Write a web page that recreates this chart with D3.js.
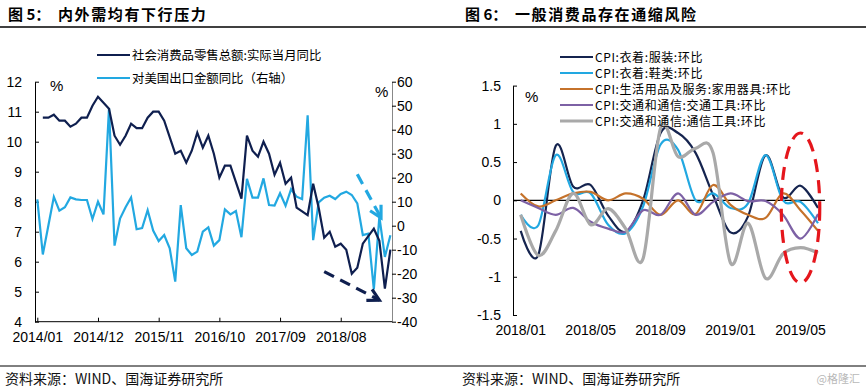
<!DOCTYPE html>
<html><head><meta charset="utf-8">
<script src="https://cdn.jsdelivr.net/npm/d3@7"></script>
<style>body{margin:0;background:#fff} svg{display:block}</style>
</head><body><svg id="c" width="866" height="391"></svg>
<script>
// ---------- Left chart data ----------
const retailDates = ["2014/02","2014/03","2014/04","2014/05","2014/06","2014/07","2014/08","2014/09","2014/10","2014/11","2014/12",
 "2015/02","2015/03","2015/04","2015/05","2015/06","2015/07","2015/08","2015/09","2015/10","2015/11","2015/12",
 "2016/02","2016/03","2016/04","2016/05","2016/06","2016/07","2016/08","2016/09","2016/10","2016/11","2016/12",
 "2017/02","2017/03","2017/04","2017/05","2017/06","2017/07","2017/08","2017/09","2017/10","2017/11","2017/12",
 "2018/02","2018/03","2018/04","2018/05","2018/06","2018/07","2018/08","2018/09","2018/10","2018/11","2018/12",
 "2019/02","2019/03","2019/04","2019/05"];
const retailValues = [10.8,10.8,10.9,10.7,10.7,10.5,10.6,10.8,10.8,11.2,11.5,
 11.1,10.2,9.9,10.2,10.6,10.45,10.45,10.8,11.0,11.0,10.7,
 9.6,9.7,9.3,9.7,10.3,9.8,10.2,9.6,8.8,9.2,9.2,
 8.1,10.2,9.7,9.5,10.0,9.6,8.9,9.3,8.6,8.8,7.8,
 7.55,8.6,7.8,6.8,7.0,6.5,6.6,6.4,5.6,5.8,6.6,
 7.1,6.7,5.1,6.4];
const exportMonths = d3.timeMonth.range(new Date(2014,0,1), new Date(2019,5,1)).map(d3.timeFormat("%Y/%m"));
const exportValues = [11,-12,0,12,6.3,7.7,11.8,11,10.7,10.7,2.8,10,
 4.7,49,-8.3,3,7.7,11.8,-1.5,-1,6.5,-2,-6.4,-3.9,
 -9.4,-23.3,8.6,-9.4,-12.2,-10.8,-2.5,-0.7,-8.3,-6,6.8,4.7,
 6.1,-4.8,19.5,11.7,11.7,19.7,8.6,8.4,13.5,8.3,15.2,12.1,
 11.1,46,-6,9.7,11.7,12.5,11.1,13.2,14.2,12.8,9.3,-3.9,
 -3.3,-26.5,3.8,-13,-4];
const leftXTicks = ["2014/01","2014/12","2015/11","2016/10","2017/09","2018/08"];
const leftYTicks = [4,5,6,7,8,9,10,11,12];
const rightYTicks = [-40,-30,-20,-10,0,10,20,30,40,50,60];
const leftSeriesNames = ["社会消费品零售总额:实际当月同比","对美国出口金额同比（右轴）"];
// annotation arrows (month, value)
const arrowDark = [["2018/05",5.67],["2019/03",4.72]];
const arrowLight = [["2018/11",21.4],["2019/04",3.3]];

// ---------- Right chart data ----------
const cpiMonths = ["2018/01","2018/02","2018/03","2018/04","2018/05","2018/06","2018/07","2018/08","2018/09",
 "2018/10","2018/11","2018/12","2019/01","2019/02","2019/03","2019/04","2019/05","2019/06"];
const cpiClothing = [-0.40,-0.72,0.71,0.18,0.20,-0.20,-0.41,0.0,0.88,0.88,0.62,0.07,-0.42,-0.21,0.59,0.04,0.19,-0.10];
const cpiShoes    = [-0.19,-0.33,0.59,0.11,0.09,-0.32,-0.43,-0.08,0.73,0.66,0.0,0.09,-0.10,-0.04,0.59,0.0,-0.02,-0.30];
const cpiHousehold= [0.09,-0.08,0.0,0.09,0.11,0.0,0.09,0.02,-0.19,0.0,-0.18,0.20,-0.06,-0.19,-0.23,0.09,-0.13,-0.40];
const cpiVehicles = [0.0,-0.10,-0.19,-0.10,-0.28,-0.37,-0.41,-0.13,-0.19,0.09,-0.19,-0.02,0.09,-0.01,-0.01,-0.19,-0.50,-0.18];
const cpiTelecom  = [-0.19,-0.72,-0.40,0.09,-0.32,-0.11,-0.37,-0.76,0.95,0.57,0.68,0.62,-0.82,-0.30,-1.02,-0.70,-0.62,-0.69];
const cpiNames = ["CPI:衣着:服装:环比","CPI:衣着:鞋类:环比","CPI:生活用品及服务:家用器具:环比","CPI:交通和通信:交通工具:环比","CPI:交通和通信:通信工具:环比"];
const cpiYTicks = [-1.5,-1,-0.5,0,0.5,1,1.5];
const cpiXTicks = ["2018/01","2018/05","2018/09","2019/01","2019/05"];
const ellipseCenter = ["2019/05",-0.1]; // centre month, value
const ellipseRadii = [1.1, 0.98];       // months, value units

// ---------- helpers ----------
const svg = d3.select("#c");
const NUM = "'Liberation Sans', Arial, sans-serif";
const CJK = "'Noto Sans CJK SC', 'Noto Sans', sans-serif";
const mIdx = s => { const [y,m] = s.split("/").map(Number); return (y-2014)*12 + (m-1); };
const fmt = d => String(d);

// ---------- titles / frame ----------
svg.append("line").attr("x1",0).attr("x2",866).attr("y1",27).attr("y2",27).attr("stroke","#000").attr("stroke-width",1.5);
svg.append("line").attr("x1",0).attr("x2",866).attr("y1",366).attr("y2",366).attr("stroke","#000").attr("stroke-width",1);
function title(x1, t1, x2, t2){
  svg.append("text").attr("x",x1).attr("y",20).attr("font-family",CJK).attr("font-weight",700).attr("font-size",15).text(t1);
  svg.append("text").attr("x",x2).attr("y",20).attr("font-family",CJK).attr("font-weight",700).attr("font-size",15).attr("letter-spacing",1.6).text(t2);
}
title(8,"图 5：",58,"内外需均有下行压力");
title(465,"图 6：",515,"一般消费品存在通缩风险");
[[5,"资料来源：WIND、国海证券研究所"],[462,"资料来源：WIND、国海证券研究所"]].forEach(([x,t])=>{
  svg.append("text").attr("x",x).attr("y",384).attr("font-family",CJK).attr("font-size",14).attr("fill","#111").text(t);
});
svg.append("text").attr("x",860).attr("y",383).attr("text-anchor","end").attr("font-family",CJK).attr("font-size",11).attr("fill","#b8b8b8").text("@格隆汇");

// ---------- Left chart ----------
const L = svg.append("g");
const xL = d3.scaleLinear().domain([0,64]).range([37.3,390.4]);
const yL = d3.scaleLinear().domain([4,12]).range([321.7,81.7]);
const yR = d3.scaleLinear().domain([-40,60]).range([321.7,81.7]);
const styleAxis = g => { g.selectAll("path,line").attr("stroke","#000"); g.selectAll("text").attr("font-family",NUM).attr("font-size",14).attr("fill","#000"); };

L.append("g").attr("transform","translate(35,0)")
 .call(d3.axisLeft(yL).tickValues(leftYTicks).tickFormat(fmt).tickSizeInner(-4).tickSizeOuter(0).tickPadding(13)).call(styleAxis);
L.append("g").attr("transform","translate(392,0)")
 .call(d3.axisRight(yR).tickValues(rightYTicks).tickFormat(fmt).tickSizeInner(4).tickSizeOuter(0).tickPadding(1)).call(styleAxis)
 .select(".domain").attr("stroke","#888");
const xAxL = L.append("g").attr("transform","translate(0,321.7)")
 .call(d3.axisBottom(xL).tickValues(leftXTicks.map(mIdx)).tickFormat(i => leftXTicks[leftXTicks.map(mIdx).indexOf(i)]).tickSizeInner(-4).tickSizeOuter(0).tickPadding(10)).call(styleAxis);
xAxL.select(".domain").attr("d","M35,0H392");

const retail = retailDates.map((d,i)=>({x:mIdx(d), v:retailValues[i]}));
const exportsUS = exportMonths.map((d,i)=>({x:mIdx(d), v:exportValues[i]}));
L.append("path").datum(exportsUS).attr("fill","none").attr("stroke","#22a8e1").attr("stroke-width",2.2)
 .attr("d", d3.line().x(d=>xL(d.x)).y(d=>yR(d.v)));
L.append("path").datum(retail).attr("fill","none").attr("stroke","#0f1f4f").attr("stroke-width",2.2)
 .attr("d", d3.line().x(d=>xL(d.x)).y(d=>yL(d.v)));

function dashedArrow(pts, ys, color, endShift){
  const [a,b] = pts.map(([m,v],k)=>[xL(mIdx(m) + (k===1?endShift:0)), ys(v)]);
  L.append("line").attr("x1",a[0]).attr("y1",a[1]).attr("x2",b[0]).attr("y2",b[1])
   .attr("stroke",color).attr("stroke-width",3.2).attr("stroke-dasharray","11,7");
  const ang = Math.atan2(b[1]-a[1], b[0]-a[0]);
  const len = 13, sp = 0.5;
  const p1 = [b[0]-len*Math.cos(ang-sp), b[1]-len*Math.sin(ang-sp)];
  const p2 = [b[0]-len*Math.cos(ang+sp), b[1]-len*Math.sin(ang+sp)];
  L.append("path").attr("d",`M${p1}L${b}L${p2}`).attr("fill","none").attr("stroke",color).attr("stroke-width",3.2);
}
dashedArrow(arrowDark, yL, "#0f1f4f", 0);
dashedArrow(arrowLight, yR, "#22a8e1", -0.7);

L.append("text").attr("x",50).attr("y",91).attr("font-family",NUM).attr("font-size",15).text("%");
L.append("text").attr("x",375).attr("y",97).attr("font-family",NUM).attr("font-size",15).text("%");

const legL = L.append("g");
[["#0f1f4f",55],["#22a8e1",78]].forEach(([c,y],i)=>{
  legL.append("line").attr("x1",97).attr("x2",130).attr("y1",y).attr("y2",y).attr("stroke",c).attr("stroke-width",2.2);
  legL.append("text").attr("x",132).attr("y",y+4.5).attr("font-family",CJK).attr("font-size",12.4).text(leftSeriesNames[i]);
});

// ---------- Right chart ----------
const R = svg.append("g");
const xC = d3.scaleLinear().domain([0,17]).range([520.7,818]);
const yC = d3.scaleLinear().domain([-1.5,1.5]).range([315,85.6]);
const cIdx = s => cpiMonths.indexOf(s);

R.append("g").attr("transform","translate(513,0)")
 .call(d3.axisLeft(yC).tickValues(cpiYTicks).tickFormat(fmt).tickSizeInner(-4).tickSizeOuter(0).tickPadding(12)).call(styleAxis);
R.append("line").attr("x1",513).attr("x2",825).attr("y1",yC(0)).attr("y2",yC(0)).attr("stroke","#000").attr("stroke-width",1.2);
cpiXTicks.forEach(t=>{
  R.append("text").attr("x",xC(cIdx(t))).attr("y",335).attr("text-anchor","middle").attr("font-family",NUM).attr("font-size",14).text(t);
});
R.append("text").attr("x",525).attr("y",102).attr("font-family",NUM).attr("font-size",15).text("%");

const cpiSeries = [
  {v:cpiClothing, c:"#15244f", w:2.2},
  {v:cpiShoes, c:"#22a8e1", w:2.2},
  {v:cpiHousehold, c:"#c5722b", w:2.2},
  {v:cpiVehicles, c:"#7d61a5", w:2.2},
  {v:cpiTelecom, c:"#a9a9a9", w:3.2}
];
const lineC = d3.line().x((d,i)=>xC(i)).y(d=>yC(d)).curve(d3.curveCatmullRom.alpha(0));
cpiSeries.forEach(s=>{
  R.append("path").datum(s.v).attr("fill","none").attr("stroke",s.c).attr("stroke-width",s.w).attr("d",lineC);
});
// ellipse annotation
const ecx = xC(cIdx(ellipseCenter[0])), ecy = yC(ellipseCenter[1]);
R.append("ellipse").attr("cx",ecx).attr("cy",ecy)
 .attr("rx", xC(cIdx(ellipseCenter[0])+ellipseRadii[0]) - ecx)
 .attr("ry", yC(ellipseCenter[1]-ellipseRadii[1]) - ecy)
 .attr("fill","none").attr("stroke","#e5161c").attr("stroke-width",3.2).attr("stroke-dasharray","13,8");

const legR = R.append("g");
cpiSeries.forEach((s,i)=>{
  const y = 57 + i*16;
  legR.append("line").attr("x1",560).attr("x2",593).attr("y1",y).attr("y2",y).attr("stroke",s.c).attr("stroke-width",s.w);
  legR.append("text").attr("x",595).attr("y",y+4.5).attr("font-family",CJK).attr("font-size",12).attr("letter-spacing",0.6).text(cpiNames[i]);
});
</script></body></html>
